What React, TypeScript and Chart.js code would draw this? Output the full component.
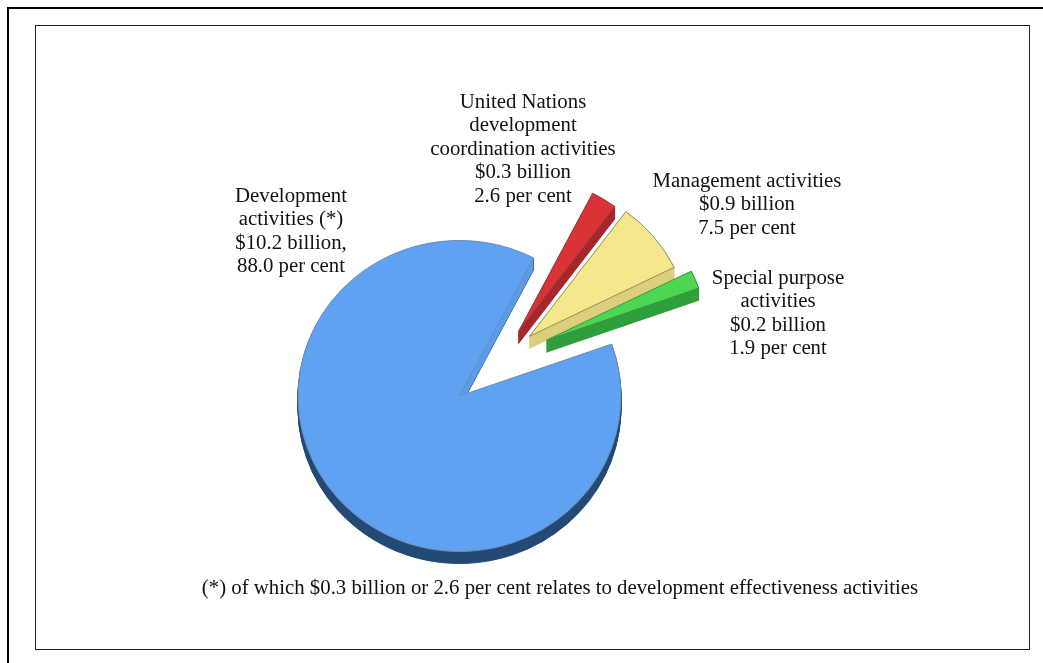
import React, { useEffect, useRef } from "react";
import { Chart, registerables } from "chart.js";

Chart.register(...registerables);

// Budget shares, per cent
const categories = [
  "Development activities (*)",
  "United Nations development coordination activities",
  "Management activities",
  "Special purpose activities",
];
const shares = [88.0, 2.6, 7.5, 1.9];
const faceColours = ["#5fa2f2", "#d93237", "#f4e78c", "#4dd653"];
const sideColours = ["#244a75", "#a5282d", "#dccf7c", "#2f9f3b"];
const edgeColours = ["#6f8cb0", "#8c3a3c", "#8f8a62", "#3f8f47"];

const developmentLabel = ["Development", "activities (*)", "$10.2 billion,", "88.0 per cent"];
const coordinationLabel = ["United Nations", "development", "coordination activities", "$0.3 billion", "2.6 per cent"];
const managementLabel = ["Management activities", "$0.9 billion", "7.5 per cent"];
const specialLabel = ["Special purpose", "activities", "$0.2 billion", "1.9 per cent"];
const footnote = "(*) of which $0.3 billion or 2.6 per cent relates to development effectiveness activities";

// Pie geometry
const WIDTH = 1043;
const HEIGHT = 663;
const CX = 459.5;
const CY = 396;
const RADIUS = 162;
const SQUASH = 0.963;
const DEPTH = 12;
// How far each slice is pulled out of the pie
const explode: [number, number][] = [[0, 0], [59, -67], [70, -62], [87, -58]];

const FONT = '20.8px "Liberation Serif"';
const LINE = 23.4;

function withProps(arc: any, props: Record<string, unknown>) {
  const descriptors: PropertyDescriptorMap = {};
  for (const key of Object.keys(props)) {
    descriptors[key] = { value: props[key], writable: true };
  }
  descriptors.pixelMargin = { value: 0, writable: true };
  descriptors.fullCircles = { value: 0, writable: true };
  return Object.create(arc, descriptors);
}

const explodedSlices = {
  id: "explodedSlices",
  afterDatasetsUpdate(chart: any) {
    chart.getDatasetMeta(0).data.forEach((arc: any, i: number) => {
      arc.x += explode[i][0];
      arc.y += explode[i][1];
    });
  },
  beforeDatasetsDraw(chart: any) {
    const ctx = chart.ctx;
    ctx.save();
    ctx.translate(CX, CY);
    ctx.scale(1, SQUASH);
    ctx.translate(-CX, -CY);
    chart.getDatasetMeta(0).data.forEach((arc: any, i: number) => {
      // The extruded side of the slice, stacked from the bottom up
      for (let d = DEPTH; d >= 1; d--) {
        const copy = withProps(arc, {
          y: arc.y + d / SQUASH,
          options: {
            ...arc.options,
            backgroundColor: sideColours[i],
            borderColor: sideColours[i],
            borderWidth: 1,
          },
        });
        copy.draw(ctx);
      }
      if (i === 0) {
        // Inner wall of the large slice, visible in the gap
        ctx.save();
        ctx.beginPath();
        ctx.rect(CX - 10, CY - RADIUS, 90, RADIUS + 30);
        ctx.clip();
        for (let d = DEPTH; d >= 1; d--) {
          const wall = withProps(arc, {
            y: arc.y + d / SQUASH,
            options: { ...arc.options, backgroundColor: "#5b9bea", borderWidth: 0 },
          });
          wall.draw(ctx);
        }
        ctx.restore();
      }
    });
  },
  afterDatasetsDraw(chart: any) {
    chart.ctx.restore();
  },
};

const frameAndText = {
  id: "frameAndText",
  afterDraw(chart: any) {
    const ctx = chart.ctx;
    ctx.save();
    ctx.strokeStyle = "#000000";
    // Outer page rule, open to the right and bottom
    ctx.lineWidth = 2;
    ctx.beginPath();
    ctx.moveTo(8, HEIGHT);
    ctx.lineTo(8, 8);
    ctx.lineTo(WIDTH, 8);
    ctx.stroke();
    // Inner box
    ctx.lineWidth = 1;
    ctx.strokeStyle = "#222222";
    ctx.strokeRect(35.5, 25.5, 994, 624);

    ctx.fillStyle = "#111111";
    ctx.font = FONT;
    ctx.textAlign = "center";
    ctx.textBaseline = "alphabetic";
    const block = (lines: string[], x: number, y: number) =>
      lines.forEach((line, i) => ctx.fillText(line, x, y + i * LINE));
    block(developmentLabel, 291, 202);
    block(coordinationLabel, 523, 108);
    block(managementLabel, 747, 187);
    block(specialLabel, 778, 284);
    ctx.fillText(footnote, 560, 594);
    ctx.restore();
  },
};

export default function App() {
  const ref = useRef<HTMLCanvasElement>(null);
  useEffect(() => {
    const chart = new Chart(ref.current as HTMLCanvasElement, {
      type: "pie",
      data: {
        labels: categories,
        datasets: [
          {
            data: shares,
            backgroundColor: faceColours,
            borderColor: edgeColours,
            borderWidth: 1,
            clip: false,
          } as any,
        ],
      },
      options: {
        responsive: false,
        animation: false,
        rotation: 70.5,
        layout: {
          padding: {
            left: CX - RADIUS,
            right: WIDTH - CX - RADIUS,
            top: CY - RADIUS,
            bottom: HEIGHT - CY - RADIUS,
          },
        },
        plugins: { legend: { display: false }, tooltip: { enabled: false } },
      },
      plugins: [explodedSlices, frameAndText],
    });
    return () => chart.destroy();
  }, []);
  return (
    <div style={{ position: "fixed", left: 0, top: 0, width: WIDTH, height: HEIGHT, background: "#ffffff" }}>
      <canvas ref={ref} width={WIDTH} height={HEIGHT} style={{ display: "block" }} />
    </div>
  );
}
